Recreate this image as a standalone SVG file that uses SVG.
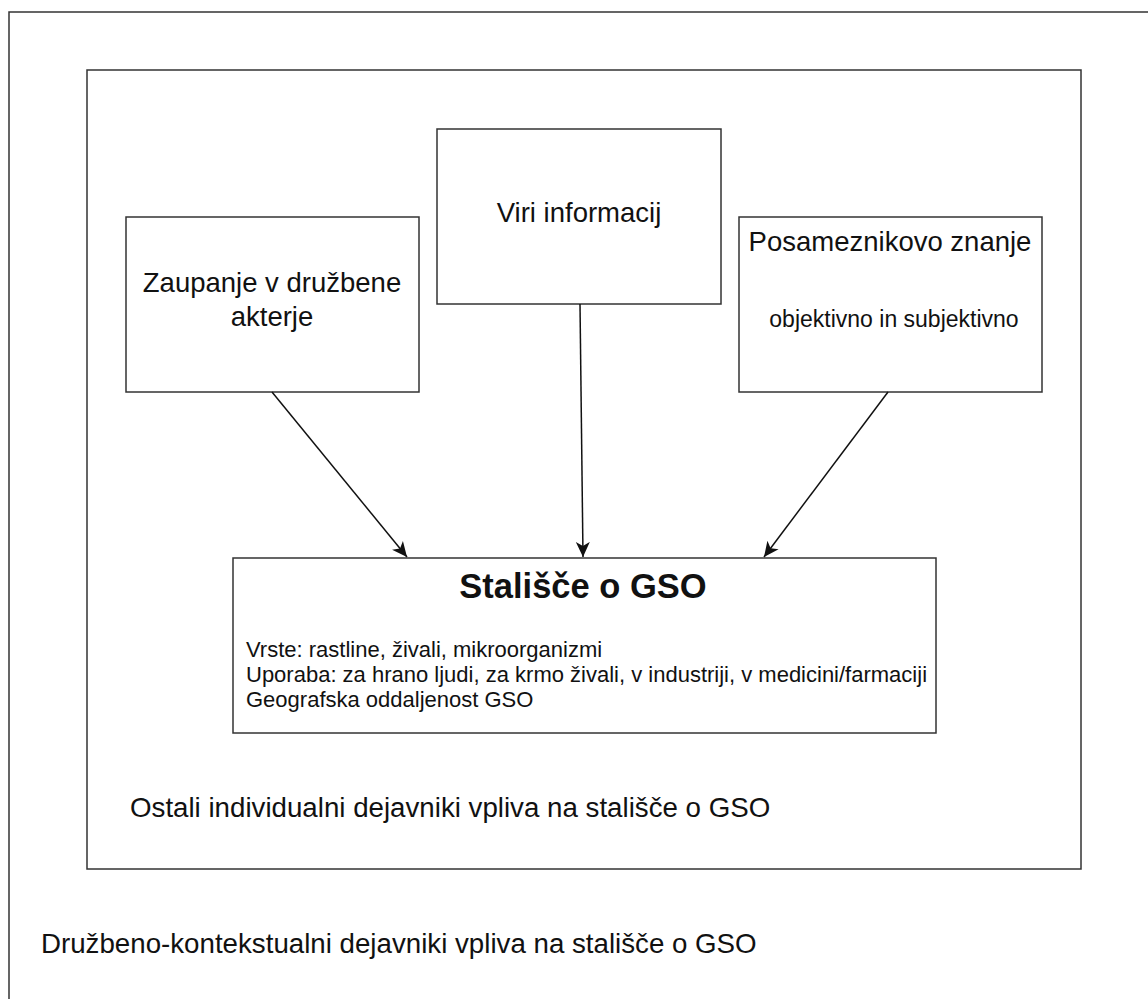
<svg xmlns="http://www.w3.org/2000/svg" width="1148" height="999" viewBox="0 0 1148 999">
  <style>
    .box { fill: #ffffff; stroke: #333333; stroke-width: 1.5; }
    .frame { fill: none; stroke: #333333; stroke-width: 1.5; }
    .link { stroke: #111111; stroke-width: 1.5; fill: none; marker-end: url(#arrow); }
    text { font-family: "Liberation Sans", Arial, sans-serif; fill: #111111; }
    .big { font-size: 27.5px; }
    .mid { font-size: 27.7px; }
    .sub { font-size: 23px; }
    .small { font-size: 22px; }
    .title { font-size: 34.5px; font-weight: bold; }
  </style>
  <defs>
    <marker id="arrow" markerWidth="16" markerHeight="16" refX="15" refY="8" orient="auto" markerUnits="userSpaceOnUse">
      <path d="M0,1 L15,8 L0,15 L4,8 Z" fill="#111111"/>
    </marker>
  </defs>

  <rect fill="#ffffff" x="0" y="0" width="1148" height="999"/>

  <!-- social-contextual frame -->
  <g id="context">
    <rect class="frame" x="9" y="12" width="1150" height="1000"/>
    <text class="mid" x="41" y="953">Družbeno-kontekstualni dejavniki vpliva na stališče o GSO</text>
  </g>

  <!-- individual factors frame -->
  <g id="individual">
    <rect class="frame" x="87" y="70" width="994" height="799"/>
    <text class="mid" x="130" y="817">Ostali individualni dejavniki vpliva na stališče o GSO</text>
  </g>

  <g id="trust">
    <rect class="box" x="126" y="217" width="293" height="175"/>
    <text class="big" x="272" y="292" text-anchor="middle">Zaupanje v družbene</text>
    <text class="big" x="272" y="326" text-anchor="middle">akterje</text>
  </g>

  <g id="sources">
    <rect class="box" x="437" y="129" width="284" height="175"/>
    <text class="big" x="579" y="222" text-anchor="middle">Viri informacij</text>
  </g>

  <g id="knowledge">
    <rect class="box" x="739" y="217" width="303" height="175"/>
    <text class="big" x="890" y="251" text-anchor="middle">Posameznikovo znanje</text>
    <text class="sub" x="894" y="327" text-anchor="middle">objektivno in subjektivno</text>
  </g>

  <g id="attitude">
    <rect class="box" x="233" y="558" width="703" height="175"/>
    <text class="title" x="583" y="598" text-anchor="middle">Stališče o GSO</text>
    <text class="small" x="246" y="657">Vrste: rastline, živali, mikroorganizmi</text>
    <text class="small" x="246" y="682">Uporaba: za hrano ljudi, za krmo živali, v industriji, v medicini/farmaciji</text>
    <text class="small" x="246" y="707">Geografska oddaljenost GSO</text>
  </g>

  <g id="connectors">
    <line class="link" x1="272" y1="392" x2="407" y2="557"/>
    <line class="link" x1="580" y1="304" x2="583" y2="557"/>
    <line class="link" x1="888" y1="392" x2="764" y2="557"/>
  </g>
</svg>
